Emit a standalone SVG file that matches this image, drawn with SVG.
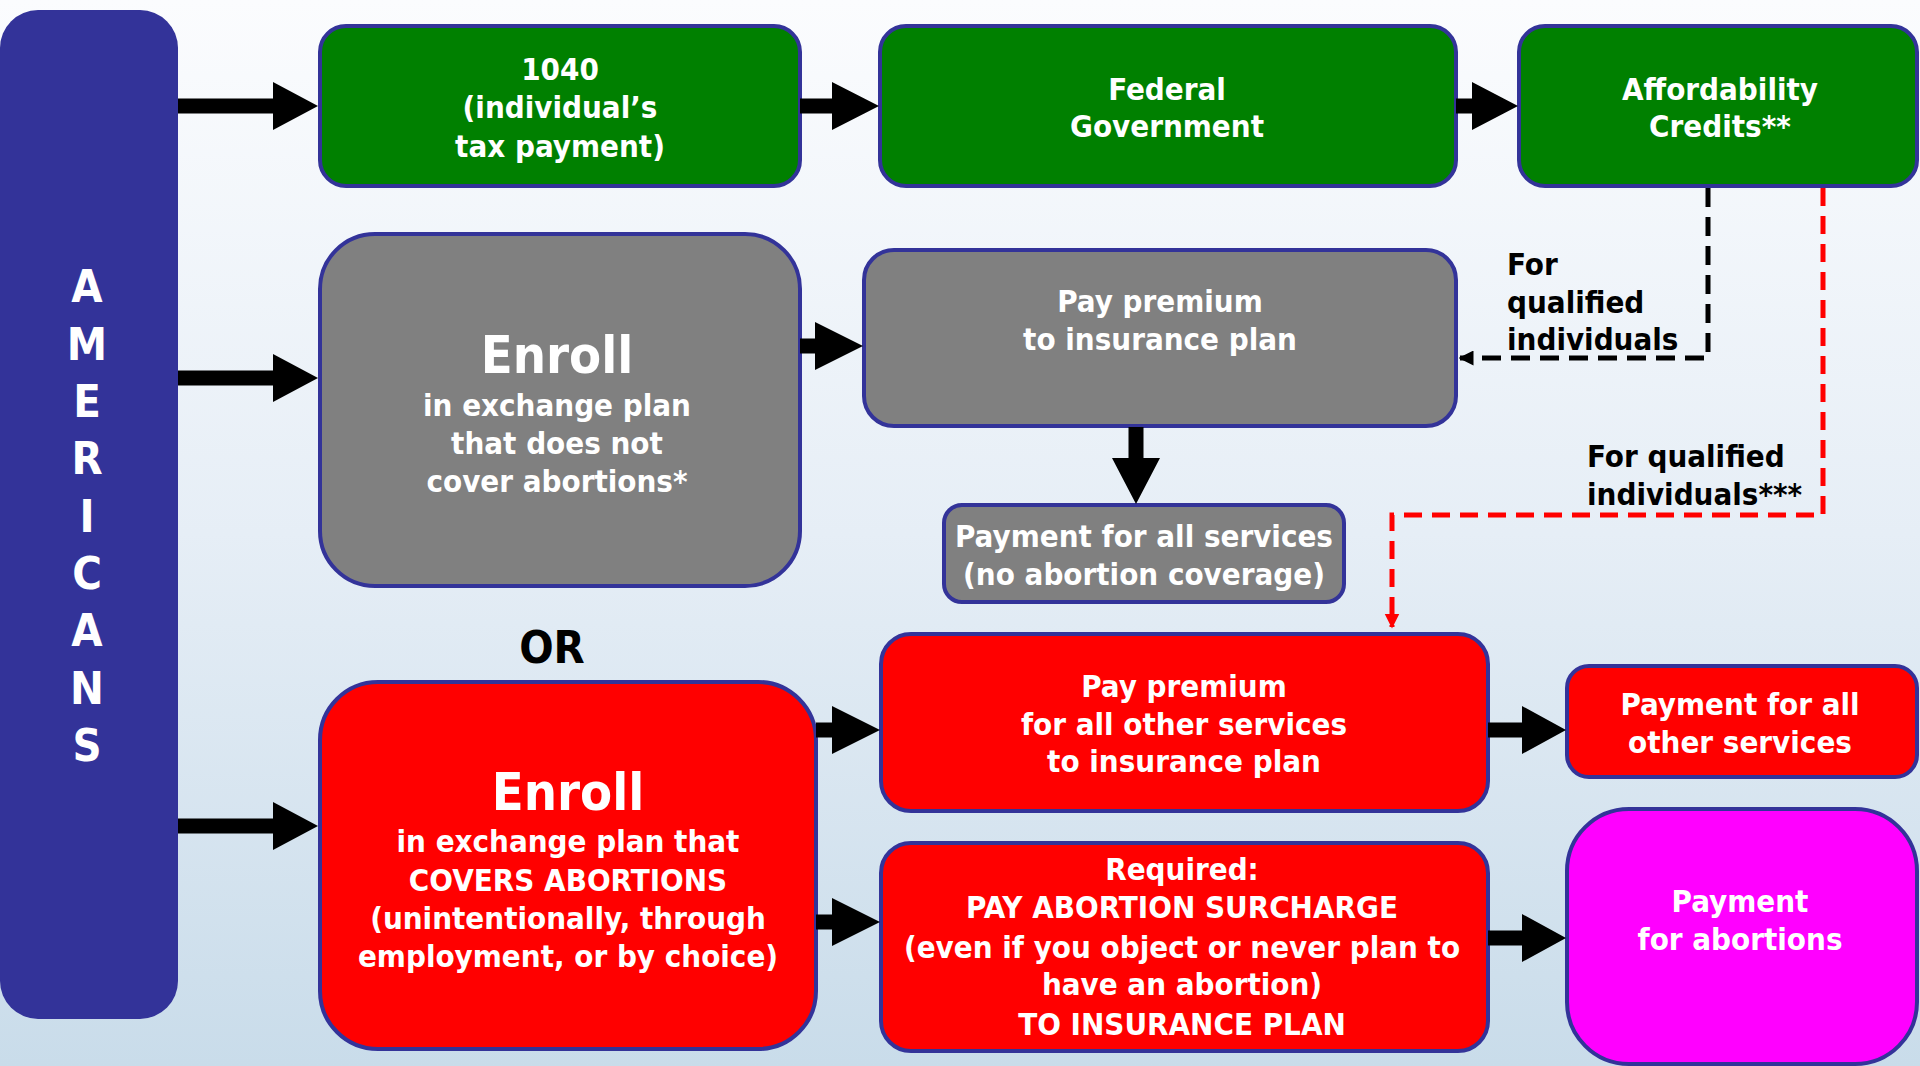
<svg xmlns="http://www.w3.org/2000/svg" width="1920" height="1066" viewBox="0 0 1920 1066">
<defs>
<linearGradient id="bg" x1="0" y1="0" x2="0" y2="1">
<stop offset="0" stop-color="#fbfcfe"/>
<stop offset="0.5" stop-color="#e6eef6"/>
<stop offset="1" stop-color="#c9dcea"/>
</linearGradient>
<marker id="mb" viewBox="0 0 10 10" refX="9" refY="5" markerWidth="3" markerHeight="3" orient="auto" markerUnits="strokeWidth">
<path d="M0 0L10 5L0 10z" fill="#000"/>
</marker>
<marker id="mr" viewBox="0 0 10 10" refX="9" refY="5" markerWidth="3" markerHeight="3.2" orient="auto" markerUnits="strokeWidth">
<path d="M0 0L10 5L0 10z" fill="#ff0000"/>
</marker>
<style>
text{font-family:"DejaVu Sans Condensed","DejaVu Sans",sans-serif;font-stretch:condensed;font-weight:bold;text-anchor:middle}
.w{fill:#fff;font-size:31px}
.k{fill:#000;font-size:31px;text-anchor:start}
.big{font-size:52px}
.box{stroke:#333399;stroke-width:4}
.g{fill:#008000}
.gr{fill:#808080}
.r{fill:#ff0000}
.m{fill:#ff00ff}
.arr{fill:#000}
</style>
</defs>
<rect width="1920" height="1066" fill="url(#bg)"/>

<g id="americans">
<rect x="0" y="10" width="178" height="1009" rx="38" fill="#333399"/>
<g class="w" style="font-size:45px">
<text x="87" y="302">A</text>
<text x="87" y="360">M</text>
<text x="87" y="417">E</text>
<text x="87" y="474">R</text>
<text x="87" y="532">I</text>
<text x="87" y="589">C</text>
<text x="87" y="646">A</text>
<text x="87" y="704">N</text>
<text x="87" y="761">S</text>
</g>
</g>

<g id="form1040">
<rect class="box g" x="320" y="26" width="480" height="160" rx="26"/>
<text class="w" x="560" y="80">1040</text>
<text class="w" x="560" y="118">(individual’s</text>
<text class="w" x="560" y="157">tax payment)</text>
</g>

<g id="federal">
<rect class="box g" x="880" y="26" width="576" height="160" rx="26"/>
<text class="w" x="1167" y="100">Federal</text>
<text class="w" x="1167" y="137">Government</text>
</g>

<g id="credits">
<rect class="box g" x="1519" y="26" width="398" height="160" rx="26"/>
<text class="w" x="1720" y="100">Affordability</text>
<text class="w" x="1720" y="137">Credits**</text>
</g>

<g id="enroll-no">
<rect class="box gr" x="320" y="234" width="480" height="352" rx="55"/>
<text class="w big" x="557" y="373">Enroll</text>
<text class="w" x="557" y="416">in exchange plan</text>
<text class="w" x="557" y="454">that does not</text>
<text class="w" x="557" y="492">cover abortions*</text>
</g>

<g id="premium-grey">
<rect class="box gr" x="864" y="250" width="592" height="176" rx="30"/>
<text class="w" x="1160" y="312">Pay premium</text>
<text class="w" x="1160" y="350">to insurance plan</text>
</g>

<g id="payment-all">
<rect class="box gr" x="944" y="505" width="400" height="97" rx="18"/>
<text class="w" x="1144" y="547">Payment for all services</text>
<text class="w" x="1144" y="585">(no abortion coverage)</text>
</g>

<g id="or">
<text x="552" y="663" style="font-size:45px;fill:#000">OR</text>
</g>

<g id="enroll-yes">
<rect class="box r" x="320" y="682" width="496" height="367" rx="58"/>
<text class="w big" x="568" y="810">Enroll</text>
<text class="w" x="568" y="852">in exchange plan that</text>
<text class="w" x="568" y="891">COVERS ABORTIONS</text>
<text class="w" x="568" y="929">(unintentionally, through</text>
<text class="w" x="568" y="967">employment, or by choice)</text>
</g>

<g id="premium-red">
<rect class="box r" x="881" y="634" width="607" height="177" rx="30"/>
<text class="w" x="1184" y="697">Pay premium</text>
<text class="w" x="1184" y="735">for all other services</text>
<text class="w" x="1184" y="772">to insurance plan</text>
</g>

<g id="payment-other">
<rect class="box r" x="1567" y="666" width="350" height="111" rx="22"/>
<text class="w" x="1740" y="715">Payment for all</text>
<text class="w" x="1740" y="753">other services</text>
</g>

<g id="surcharge">
<rect class="box r" x="881" y="843" width="607" height="208" rx="30"/>
<text class="w" x="1182" y="880">Required:</text>
<text class="w" x="1182" y="918">PAY ABORTION SURCHARGE</text>
<text class="w" x="1182" y="958">(even if you object or never plan to</text>
<text class="w" x="1182" y="995">have an abortion)</text>
<text class="w" x="1182" y="1035">TO INSURANCE PLAN</text>
</g>

<g id="payment-abortions">
<rect class="box m" x="1567" y="809" width="350" height="255" rx="62"/>
<text class="w" x="1740" y="912">Payment</text>
<text class="w" x="1740" y="950">for abortions</text>
</g>

<g id="connectors">
<polygon class="arr" points="178,98.5 273,98.5 273,82 318,106 273,130 273,113.5 178,113.5"/>
<polygon class="arr" points="800,98.5 832,98.5 832,82 879,106 832,130 832,113.5 800,113.5"/>
<polygon class="arr" points="1456,98.5 1472,98.5 1472,82 1518,106 1472,130 1472,113.5 1456,113.5"/>
<polygon class="arr" points="178,370.5 273,370.5 273,354 318,378 273,402 273,385.5 178,385.5"/>
<polygon class="arr" points="800,338.5 815,338.5 815,322 863,346 815,370 815,353.5 800,353.5"/>
<polygon class="arr" points="1128.5,427 1143.5,427 1143.5,458 1160,458 1136,504 1112,458 1128.5,458"/>
<polygon class="arr" points="178,818.5 273,818.5 273,802 318,826 273,850 273,833.5 178,833.5"/>
<polygon class="arr" points="816,722.5 832,722.5 832,706 880,730 832,754 832,737.5 816,737.5"/>
<polygon class="arr" points="816,914.5 832,914.5 832,898 880,922 832,946 832,929.5 816,929.5"/>
<polygon class="arr" points="1488,722.5 1522,722.5 1522,706 1566,730 1522,754 1522,737.5 1488,737.5"/>
<polygon class="arr" points="1488,930.5 1522,930.5 1522,914 1566,938 1522,962 1522,945.5 1488,945.5"/>
<path d="M1708 188V358H1460" fill="none" stroke="#000" stroke-width="5" stroke-dasharray="19 10" marker-end="url(#mb)"/>
<path d="M1823 188V515H1392V627" fill="none" stroke="#ff0000" stroke-width="5" stroke-dasharray="18 10" marker-end="url(#mr)"/>
<text class="k" x="1507" y="275">For</text>
<text class="k" x="1507" y="313">qualified</text>
<text class="k" x="1507" y="350">individuals</text>
<text class="k" x="1587" y="467">For qualified</text>
<text class="k" x="1587" y="505">individuals***</text>
</g>
</svg>
